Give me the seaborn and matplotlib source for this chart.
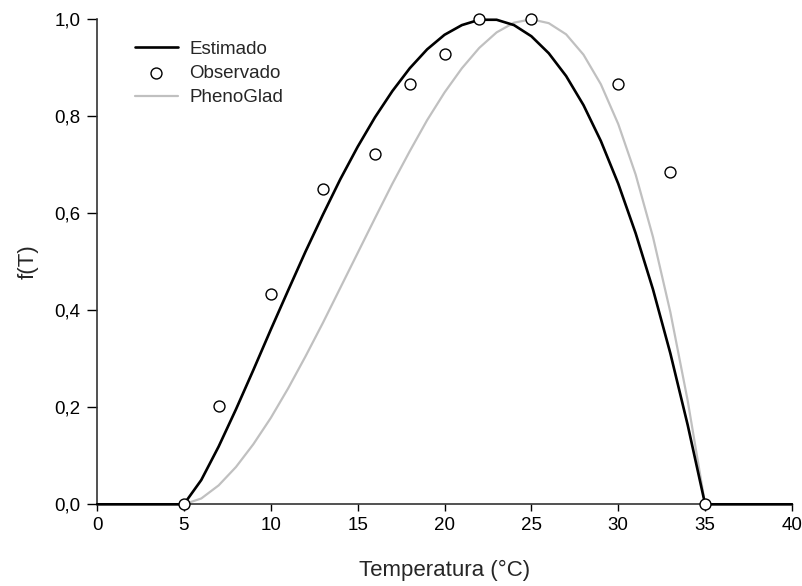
import matplotlib
matplotlib.use("Agg")
import matplotlib.pyplot as plt
import matplotlib.ticker as mticker
import numpy as np
import pandas as pd
import seaborn as sns

# --- dados ---
temp = [0, 1, 2, 3, 4, 5, 6, 7, 8, 9, 10, 11, 12, 13, 14, 15, 16, 17, 18, 19, 20,
        21, 22, 23, 24, 25, 26, 27, 28, 29, 30, 31, 32, 33, 34, 35, 36, 37, 38, 39, 40]

estimado = [0, 0, 0, 0, 0, 0, 0.050, 0.119, 0.196, 0.277, 0.360, 0.441, 0.521, 0.597,
            0.670, 0.737, 0.798, 0.852, 0.899, 0.938, 0.968, 0.988, 0.999, 0.999, 0.988,
            0.965, 0.930, 0.883, 0.823, 0.749, 0.661, 0.559, 0.443, 0.311, 0.163, 0,
            0, 0, 0, 0, 0]

phenoglad = [0, 0, 0, 0, 0, 0, 0.012, 0.039, 0.077, 0.124, 0.178, 0.239, 0.305, 0.374,
             0.446, 0.518, 0.590, 0.661, 0.728, 0.792, 0.849, 0.899, 0.941, 0.973, 0.993,
             1.000, 0.992, 0.969, 0.927, 0.866, 0.784, 0.680, 0.551, 0.396, 0.213, 0,
             0, 0, 0, 0, 0]

temp_obs = [5, 7, 10, 13, 16, 18, 20, 22, 25, 30, 33, 35]
observado = [0, 0.203, 0.434, 0.650, 0.723, 0.867, 0.928, 1.0, 1.0, 0.867, 0.685, 0]

x_ticks = [0, 5, 10, 15, 20, 25, 30, 35, 40]
y_ticks = [0.0, 0.2, 0.4, 0.6, 0.8, 1.0]

df_curvas = pd.DataFrame({"T": temp, "Estimado": estimado, "PhenoGlad": phenoglad})
df_obs = pd.DataFrame({"T": temp_obs, "Observado": observado})

# --- estilo ---
sns.set_style("ticks")
plt.rcParams["font.family"] = ["Liberation Sans", "DejaVu Sans"]

fig = plt.figure(figsize=(8.03, 5.86), dpi=100)
ax = fig.add_axes([0.1208, 0.1394, 0.8655, 0.8277])

sns.lineplot(data=df_curvas, x="T", y="PhenoGlad", ax=ax, color="#c0c0c0",
             linewidth=1.6, label="PhenoGlad", zorder=2, clip_on=False)
sns.lineplot(data=df_curvas, x="T", y="Estimado", ax=ax, color="black",
             linewidth=1.9, label="Estimado", zorder=3, clip_on=False)
sns.scatterplot(data=df_obs, x="T", y="Observado", ax=ax, marker="o", s=62,
                facecolor="white", edgecolor="black", linewidth=1.0,
                label="Observado", zorder=4, clip_on=False)

ax.set_xlim(0, 40)
ax.set_ylim(0, 1.0)
ax.set_xticks(x_ticks)
ax.set_yticks(y_ticks)
ax.yaxis.set_major_formatter(mticker.FuncFormatter(lambda v, p: f"{v:.1f}".replace(".", ",")))
ax.tick_params(axis="both", direction="out", width=1, labelsize=13.5,
               color="black", labelcolor="black")
ax.tick_params(axis="x", length=5, pad=4)
ax.tick_params(axis="y", length=7, pad=5)

for s in ["top", "right"]:
    ax.spines[s].set_visible(False)
for s in ["left", "bottom"]:
    ax.spines[s].set_color("#333333")
    ax.spines[s].set_linewidth(1.2)

ax.set_xlabel("Temperatura (°C)", fontsize=16, labelpad=19)
ax.set_ylabel("f(T)", fontsize=16, labelpad=11)

# legenda na ordem do original
h, l = ax.get_legend_handles_labels()
order = [l.index("Estimado"), l.index("Observado"), l.index("PhenoGlad")]
ax.legend([h[i] for i in order], [l[i] for i in order], loc="upper left",
          bbox_to_anchor=(0.054, 0.956), frameon=False, fontsize=13.5,
          handlelength=2.3, handletextpad=0.62, labelspacing=0.38,
          borderpad=0, borderaxespad=0)

fig.savefig("out.png", dpi=100)
